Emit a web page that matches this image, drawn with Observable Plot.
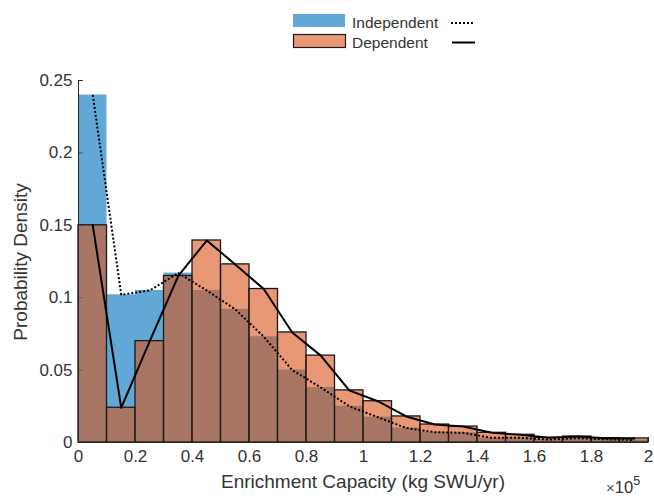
<!DOCTYPE html>
<html>
<head>
<meta charset="utf-8">
<script src="https://cdn.jsdelivr.net/npm/d3@7"></script>
<script src="https://cdn.jsdelivr.net/npm/@observablehq/plot@0.6"></script>
<style>
  body { margin: 0; background: #fff; font-family: "Liberation Sans", Arial, sans-serif; }
  #wrap { width: 654px; height: 496px; position: relative; overflow: hidden; }
  svg { display: block; }
</style>
</head>
<body>
<div id="wrap">
  <div id="legend"></div>
  <div id="chart"></div>
</div>
<script>
// Bin edges (units of 1e5 kg SWU/yr)
const binEdges = [0, 0.1, 0.2, 0.3, 0.4, 0.5, 0.6, 0.7, 0.8, 0.9, 1.0, 1.1, 1.2, 1.3, 1.4, 1.5, 1.6, 1.7, 1.8, 1.9, 2.0];
// Probability densities per bin
const independent = [0.240, 0.102, 0.105, 0.117, 0.105, 0.092, 0.073, 0.050, 0.038, 0.025, 0.0175, 0.010, 0.0071, 0.0067, 0.0032, 0.0032, 0.0020, 0.0030, 0.0022, 0.0017];
const dependent   = [0.150, 0.024, 0.070, 0.115, 0.1395, 0.123, 0.106, 0.076, 0.060, 0.036, 0.0285, 0.018, 0.0124, 0.011, 0.0067, 0.0053, 0.0032, 0.0041, 0.0030, 0.0028];
const xTicks = [0, 0.2, 0.4, 0.6, 0.8, 1, 1.2, 1.4, 1.6, 1.8, 2];
const yTicks = [0, 0.05, 0.1, 0.15, 0.2, 0.25];
const seriesNames = ["Independent", "Dependent"];
const xLabel = "Enrichment Capacity (kg SWU/yr)";
const yLabel = "Probability Density";

const blue = "#0072BD", orange = "#D95319", axisColor = "#262626";
const idx = independent.map((_, i) => i);
const x1 = i => binEdges[i], x2 = i => binEdges[i + 1];
const xc = i => (binEdges[i] + binEdges[i + 1]) / 2;

const chart = Plot.plot({
  width: 654, height: 436,
  marginLeft: 78, marginRight: 6, marginTop: 20, marginBottom: 54,
  x: { domain: [0, 2] },
  y: { domain: [0, 0.25] },
  style: { fontFamily: "'Liberation Sans', Arial, sans-serif", fontSize: "17px", color: "#333", background: "#fff" },
  marks: [
    Plot.ruleY(yTicks, { y: d => d, x1: 0, x2: 0.017, stroke: axisColor }),
    Plot.ruleX(xTicks, { x: d => d, y1: 0, y2: 0.0035, stroke: axisColor }),
    Plot.rect(idx, { x1, x2, y1: 0, y2: i => independent[i], fill: blue, fillOpacity: 0.62 }),
    Plot.rect(idx, { x1, x2, y1: 0, y2: i => dependent[i], fill: orange, fillOpacity: 0.6, stroke: "#1a1a1a", strokeWidth: 1.3 }),
    Plot.line(idx, { x: xc, y: i => independent[i], stroke: "#000", strokeWidth: 2, strokeDasharray: "2,2", strokeLinecap: "butt", strokeLinejoin: "miter" }),
    Plot.line(idx, { x: xc, y: i => dependent[i], stroke: "#000", strokeWidth: 2 }),
    Plot.ruleX([0], { stroke: axisColor }),
    Plot.ruleY([0], { stroke: axisColor }),
    Plot.axisX(xTicks, { tickSize: 0, tickPadding: 7, tickFormat: d => String(d), label: null }),
    Plot.axisY(yTicks, { tickSize: 0, tickPadding: 6, tickFormat: d => String(d), label: null })
  ]
});
document.getElementById("chart").appendChild(chart);

const svg = d3.select(chart);
svg.append("text").attr("x", 363).attr("y", 428).attr("text-anchor", "middle")
  .attr("font-size", 19).attr("fill", "#333").text(xLabel);
svg.append("text").attr("transform", "translate(27,202) rotate(-90)").attr("text-anchor", "middle")
  .attr("font-size", 19).attr("fill", "#333").text(yLabel);
const mult = svg.append("text").attr("x", 606).attr("y", 433).attr("text-anchor", "start")
  .attr("font-size", 16.5).attr("fill", "#333");
mult.append("tspan").attr("font-size", 15).attr("fill", "#555").text("×");
mult.append("tspan").text("10");
mult.append("tspan").attr("dy", -8).attr("font-size", 12.5).text("5");

// Legend
const leg = d3.select("#legend").append("svg").attr("width", 654).attr("height", 60)
  .attr("font-family", "'Liberation Sans', Arial, sans-serif");
leg.append("rect").attr("x", 293).attr("y", 14).attr("width", 52).attr("height", 13)
  .attr("fill", blue).attr("fill-opacity", 0.62);
leg.append("text").attr("x", 352).attr("y", 28).attr("font-size", 15.5).attr("fill", "#333").text(seriesNames[0]);
leg.append("line").attr("x1", 451).attr("x2", 475).attr("y1", 23).attr("y2", 23)
  .attr("stroke", "#000").attr("stroke-width", 2).attr("stroke-dasharray", "2,2");
leg.append("rect").attr("x", 293.5).attr("y", 34.5).attr("width", 52).attr("height", 13)
  .attr("fill", orange).attr("fill-opacity", 0.6).attr("stroke", "#1a1a1a").attr("stroke-width", 1.2);
leg.append("text").attr("x", 352).attr("y", 48).attr("font-size", 15.5).attr("fill", "#333").text(seriesNames[1]);
leg.append("line").attr("x1", 452).attr("x2", 475).attr("y1", 42.5).attr("y2", 42.5)
  .attr("stroke", "#000").attr("stroke-width", 2);
</script>
</body>
</html>
